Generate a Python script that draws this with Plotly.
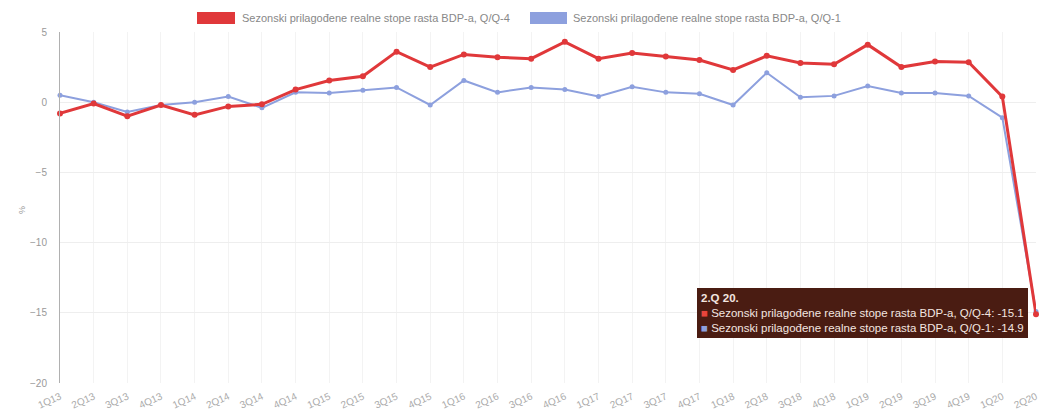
import plotly.graph_objects as go

quarters = ["1.Q 13.", "2.Q 13.", "3.Q 13.", "4.Q 13.", "1.Q 14.", "2.Q 14.", "3.Q 14.", "4.Q 14.",
            "1.Q 15.", "2.Q 15.", "3.Q 15.", "4.Q 15.", "1.Q 16.", "2.Q 16.", "3.Q 16.", "4.Q 16.",
            "1.Q 17.", "2.Q 17.", "3.Q 17.", "4.Q 17.", "1.Q 18.", "2.Q 18.", "3.Q 18.", "4.Q 18.",
            "1.Q 19.", "2.Q 19.", "3.Q 19.", "4.Q 19.", "1.Q 20.", "2.Q 20."]
tick_labels = ["1Q13", "2Q13", "3Q13", "4Q13", "1Q14", "2Q14", "3Q14", "4Q14",
               "1Q15", "2Q15", "3Q15", "4Q15", "1Q16", "2Q16", "3Q16", "4Q16",
               "1Q17", "2Q17", "3Q17", "4Q17", "1Q18", "2Q18", "3Q18", "4Q18",
               "1Q19", "2Q19", "3Q19", "4Q19", "1Q20", "2Q20"]

yoy = [-0.8, -0.1, -1.0, -0.2, -0.9, -0.3, -0.15, 0.9, 1.55, 1.85, 3.6, 2.5, 3.4, 3.2, 3.1, 4.3,
       3.1, 3.5, 3.25, 3.0, 2.3, 3.3, 2.8, 2.7, 4.1, 2.5, 2.9, 2.85, 0.4, -15.1]
qoq = [0.5, 0.0, -0.7, -0.2, 0.0, 0.4, -0.4, 0.7, 0.65, 0.85, 1.05, -0.2, 1.55, 0.7, 1.05, 0.9,
       0.4, 1.1, 0.7, 0.6, -0.2, 2.1, 0.35, 0.45, 1.15, 0.65, 0.65, 0.45, -1.1, -14.9]

name_red = "Sezonski prilagođene realne stope rasta BDP-a, Q/Q-4"
name_blue = "Sezonski prilagođene realne stope rasta BDP-a, Q/Q-1"
red = "#e0383a"
blue = "#8da0de"

W, H = 1039, 412
L, R, T, B = 60, 3, 32, 29
PW, PH = W - L - R, H - T - B


def px(x):
    return (x - L) / PW


def py(y):
    return (H - B - y) / PH


fig = go.Figure()
fig.add_trace(go.Scatter(x=quarters, y=qoq, mode="lines+markers", name=name_blue, cliponaxis=False,
                         line=dict(color=blue, width=2), marker=dict(size=5, color=blue)))
fig.add_trace(go.Scatter(x=quarters, y=yoy, mode="lines+markers", name=name_red, cliponaxis=False,
                         line=dict(color=red, width=3), marker=dict(size=6, color=red)))

# custom legend
fig.add_shape(type="rect", xref="paper", yref="paper", x0=px(197), x1=px(235),
              y0=py(24), y1=py(12), fillcolor=red, line=dict(width=0))
fig.add_shape(type="rect", xref="paper", yref="paper", x0=px(530), x1=px(567),
              y0=py(24), y1=py(12), fillcolor=blue, line=dict(width=0))
fig.add_annotation(xref="paper", yref="paper", x=px(240), y=py(18), xanchor="left",
                   yanchor="middle", text=name_red, showarrow=False,
                   font=dict(size=11, color="#888888", family="Liberation Sans"))
fig.add_annotation(xref="paper", yref="paper", x=px(571), y=py(18), xanchor="left",
                   yanchor="middle", text=name_blue, showarrow=False,
                   font=dict(size=11, color="#888888", family="Liberation Sans"))

# tooltip
tip = ("<b>" + quarters[-1] + "</b><br>"
       + "<span style='color:#e8453c'>■</span> " + name_red + ": " + f"{yoy[-1]}" + "<br>"
       + "<span style='color:#8da0de'>■</span> " + name_blue + ": " + f"{qoq[-1]}")
fig.add_annotation(xref="paper", yref="paper", x=px(697), y=py(288),
                   xanchor="left", yanchor="top", text=tip, showarrow=False, align="left",
                   bgcolor="#4a1c12", bordercolor="#4a1c12", borderpad=3,
                   font=dict(size=11.5, color="#f3e6e0", family="Liberation Sans"))

fig.update_layout(
    width=W, height=H,
    margin=dict(l=L, r=R, t=T, b=B, autoexpand=False),
    plot_bgcolor="white", paper_bgcolor="white",
    showlegend=False,
    font=dict(family="Liberation Sans", size=9, color="#999999"),
    xaxis=dict(type="category", range=[0, 29], tickmode="array", tickvals=quarters,
               ticktext=tick_labels, tickangle=-25, showgrid=True, gridcolor="#f3f3f3",
               zeroline=False, showline=False, ticks="", automargin=False,
               ticklabelstandoff=5, tickfont=dict(size=10, color="#aaaaaa")),
    yaxis=dict(range=[-20, 5], dtick=5, showgrid=True, gridcolor="#eeeeee", zeroline=False,
               showline=True, linecolor="#b0b0b0", ticks="", automargin=False,
               ticklabelstandoff=10, tickfont=dict(size=10, color="#999999")),
)
fig.add_annotation(xref="paper", yref="paper", x=px(15), y=py(210), text="%", showarrow=False,
                   textangle=-90, font=dict(size=9, color="#999999"))

fig.write_html("out.html", config={"displayModeBar": False},
               post_script="document.body.style.margin='0';document.body.style.overflow='hidden';")
